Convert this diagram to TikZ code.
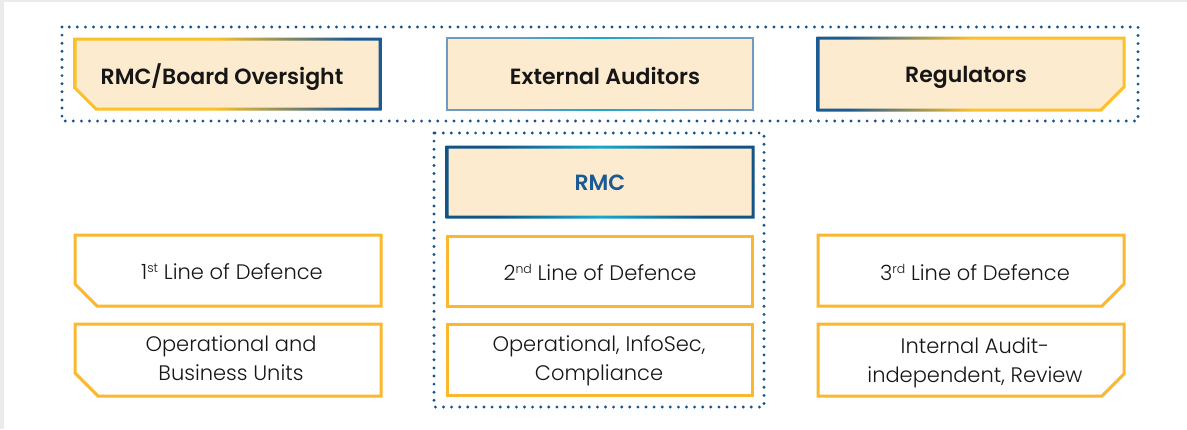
\documentclass[tikz,border=0pt]{standalone}
\usepackage{fontspec}
\setmainfont{Poppins}[BoldFont=* SemiBold]
\newfontfamily\lightfont{Poppins}[UprightFont=* Light]

\definecolor{peach}{RGB}{253,235,208}
\definecolor{amber}{RGB}{251,183,46}
\definecolor{gold}{RGB}{252,192,40}
\definecolor{navy}{RGB}{27,90,147}
\definecolor{dotblue}{RGB}{22,82,142}
\definecolor{deepblue}{RGB}{18,84,134}
\definecolor{cyanish}{RGB}{25,168,205}
\definecolor{steel}{RGB}{110,155,198}
\definecolor{framegray}{RGB}{235,235,235}
\definecolor{ink}{RGB}{22,22,22}

% horizontal colour ramps for the outlined header boxes
\pgfdeclarehorizontalshading{goldtonavy}{100bp}{color(0bp)=(gold); color(48bp)=(gold); color(70bp)=(navy); color(100bp)=(navy)}
\pgfdeclarehorizontalshading{navytogold}{100bp}{color(0bp)=(navy); color(30bp)=(navy); color(50bp)=(gold); color(100bp)=(gold)}
\pgfdeclarehorizontalshading{bluecyan}{100bp}{color(0bp)=(deepblue); color(33bp)=(deepblue); color(50bp)=(cyanish); color(67bp)=(deepblue); color(100bp)=(deepblue)}
\pgfdeclarehorizontalshading{steelcyan}{100bp}{color(0bp)=(steel); color(35bp)=(steel); color(50bp)=(cyanish); color(65bp)=(steel); color(100bp)=(steel)}

% box outlines: x1 y1 x2 y2 bevel offset (offset > 0 shrinks the outline)
\newcommand\bevelBL[6]{({#1+(#6)},{#2+(#6)}) -- ({#3-(#6)},{#2+(#6)}) -- ({#3-(#6)},{#4-(#6)}) -- ({#1+#5+0.414*(#6)},{#4-(#6)}) -- ({#1+(#6)},{#4-#5-0.414*(#6)}) -- cycle}
\newcommand\bevelBR[6]{({#1+(#6)},{#2+(#6)}) -- ({#3-(#6)},{#2+(#6)}) -- ({#3-(#6)},{#4-#5-0.414*(#6)}) -- ({#3-#5-0.414*(#6)},{#4-(#6)}) -- ({#1+(#6)},{#4-(#6)}) -- cycle}
\newcommand\boxrect[5]{({#1+(#5)},{#2+(#5)}) rectangle ({#3-(#5)},{#4-(#5)})}

% small raised ordinal suffix
\newcommand\ordsuffix[1]{\raisebox{6.5pt}{\fontsize{12.5}{12.5}\selectfont #1}}

\tikzset{
  dotbox/.style={draw=dotblue, line width=3.2pt, dash pattern=on 0pt off 8.1pt, line cap=round},
  lodbox/.style={draw=amber, line width=3pt, fill=white, line join=miter},
  headtxt/.style={font=\fontsize{22}{26}\selectfont\bfseries, text=ink, inner sep=0pt, anchor=base},
  rmctxt/.style={font=\fontsize{22}{26}\selectfont\bfseries, text=navy, inner sep=0pt, anchor=base},
  lodtxt/.style={font=\lightfont\fontsize{21}{29}\selectfont, text=ink, inner sep=0pt, anchor=base, align=center},
}

\begin{document}
\begin{tikzpicture}[x=1pt, y=-1pt]
  % page and its grey edge
  \fill[framegray] (0,0) rectangle (1187,429);
  \fill[white] (4,2) rectangle (1187,429);
  \useasboundingbox (0,0) rectangle (1187,429);

  % dotted groupings
  \draw[dotbox] (62,27) rectangle (1138,121);
  \draw[dotbox] (434,133) rectangle (764,407);

  % header row
  \fill[peach] \bevelBL{75}{39}{380}{109}{21}{0};
  \shade[shading=goldtonavy, even odd rule] \bevelBL{75}{39}{380}{109}{21}{-1.5} \bevelBL{75}{39}{380}{109}{21}{1.5};
  \node[headtxt] (board) at (222,84) {RMC/Board Oversight};

  \fill[peach] \boxrect{447}{38}{753}{110}{0};
  \shade[shading=steelcyan, even odd rule] \boxrect{447}{38}{753}{110}{-0.8} \boxrect{447}{38}{753}{110}{0.8};
  \node[headtxt] (auditors) at (605,84) {External Auditors};

  \fill[peach] \bevelBR{818}{38}{1124}{110}{23}{0};
  \shade[shading=navytogold, even odd rule] \bevelBR{818}{38}{1124}{110}{23}{-1.5} \bevelBR{818}{38}{1124}{110}{23}{1.5};
  \node[headtxt] (regulators) at (966,82) {Regulators};

  % RMC
  \fill[peach] \boxrect{447}{147}{753}{217}{0};
  \shade[shading=bluecyan, even odd rule] \boxrect{447}{147}{753}{217}{-1.5} \boxrect{447}{147}{753}{217}{1.5};
  \node[rmctxt] (rmc) at (600,190) {RMC};

  % lines of defence; two-line labels sit on the baseline of their last line
  \draw[lodbox] \bevelBL{75}{235}{381}{306}{22}{0};
  \node[lodtxt] (lod1) at (232,279) {1\ordsuffix{st} Line of Defence};
  \draw[lodbox] \bevelBL{75}{324}{381}{396}{23}{0};
  \node[lodtxt] (units1) at (231,380) {Operational and\\Business Units};

  \draw[lodbox] \boxrect{447}{236}{752}{306}{0};
  \node[lodtxt] (lod2) at (600,280) {2\ordsuffix{nd} Line of Defence};
  \draw[lodbox] \boxrect{447}{324}{752}{395}{0};
  \node[lodtxt] (units2) at (599,380) {Operational, InfoSec,\\Compliance};

  \draw[lodbox] \bevelBR{818}{235}{1124}{306}{22}{0};
  \node[lodtxt] (lod3) at (975,280) {3\ordsuffix{rd} Line of Defence};
  \draw[lodbox] \bevelBR{818}{324}{1124}{396}{22}{0};
  \node[lodtxt] (units3) at (975,382) {Internal Audit-\\independent, Review};
\end{tikzpicture}
\end{document}
